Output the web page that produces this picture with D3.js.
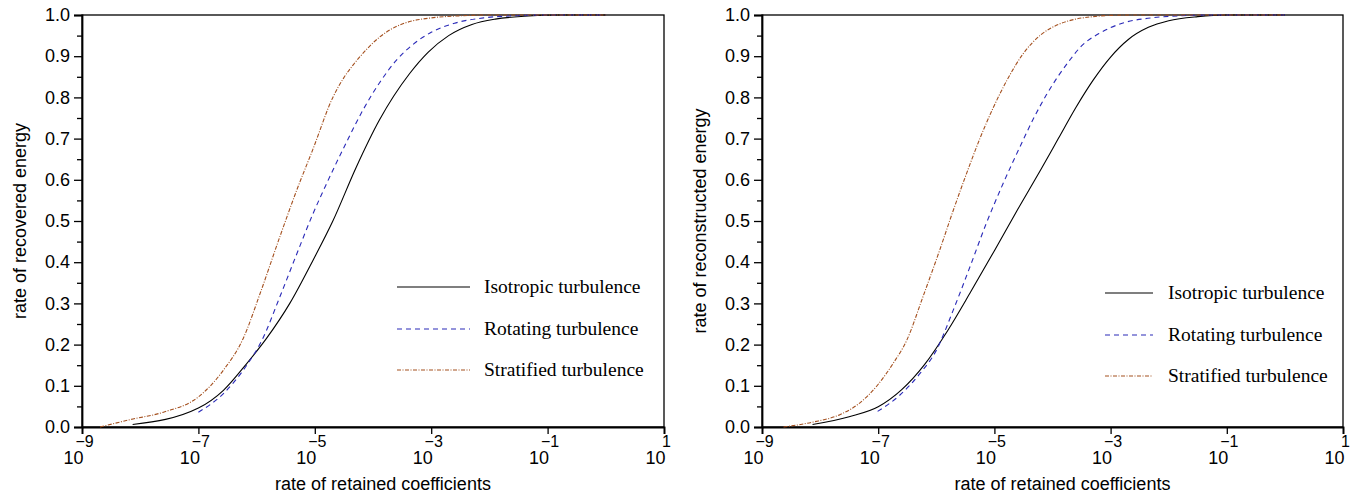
<!DOCTYPE html>
<html>
<head>
<meta charset="utf-8">
<script src="https://cdn.jsdelivr.net/npm/d3@7"></script>
<style>
  html, body { margin: 0; padding: 0; background: #fff; }
  svg { display: block; }
</style>
</head>
<body>
<svg id="chart" width="1363" height="497"></svg>
<script>
// ---------- data ----------
const seriesNames = ["Isotropic turbulence", "Rotating turbulence", "Stratified turbulence"];
const xTickValues = [1e-9, 1e-7, 1e-5, 1e-3, 1e-1, 1e1];
const xTickExponents = ["\u22129", "\u22127", "\u22125", "\u22123", "\u22121", "1"];
const yTickValues = [0, 0.1, 0.2, 0.3, 0.4, 0.5, 0.6, 0.7, 0.8, 0.9, 1.0];
const yMinorTickValues = [0.05, 0.15, 0.25, 0.35, 0.45, 0.55, 0.65, 0.75, 0.85, 0.95];

// Left panel (recovered energy): log10 of retained rate, and energy rate
const leftIsoLogX = [-8.13, -7.0, -6.57, -6.17, -5.83, -5.43, -5.03, -4.69, -4.29, -3.89, -3.37, -3.05, -2.7, -2.3, -1.9, -1.4, -0.8, 0];
const leftIsoVal  = [0.006, 0.046, 0.089, 0.154, 0.215, 0.30, 0.405, 0.50, 0.63, 0.745, 0.858, 0.91, 0.95, 0.977, 0.99, 0.997, 1.0, 1.0];
const leftRotLogX = [-7.0, -6.57, -6.17, -5.91, -5.6, -5.31, -5.03, -4.8, -4.46, -4.17, -3.89, -3.6, -3.3, -3.0, -2.6, -2.1, -1.6, -1.1, 0];
const leftRotVal  = [0.036, 0.081, 0.15, 0.21, 0.316, 0.42, 0.518, 0.59, 0.69, 0.77, 0.835, 0.89, 0.93, 0.958, 0.98, 0.993, 0.998, 1.0, 1.0];
const leftStrLogX = [-8.69, -8.17, -7.6, -7.0, -6.57, -6.23, -5.94, -5.6, -5.31, -5.03, -4.69, -4.5, -4.34, -4.1, -3.89, -3.6, -3.37, -3.0, -2.5, -2.0, 0];
const leftStrVal  = [0.0, 0.018, 0.036, 0.073, 0.138, 0.215, 0.324, 0.462, 0.575, 0.675, 0.80, 0.848, 0.879, 0.918, 0.946, 0.972, 0.984, 0.993, 0.998, 1.0, 1.0];

// Right panel (reconstructed energy)
const rightIsoLogX = [-8.13, -7.5, -7.0, -6.6, -6.2, -5.8, -5.4, -5.0, -4.6, -4.2, -3.9, -3.6, -3.3, -3.0, -2.7, -2.35, -2.0, -1.5, -1.0, 0];
const rightIsoVal  = [0.006, 0.025, 0.049, 0.09, 0.152, 0.235, 0.33, 0.428, 0.528, 0.625, 0.70, 0.775, 0.842, 0.898, 0.94, 0.97, 0.986, 0.996, 1.0, 1.0];
const rightRotLogX = [-7.01, -6.63, -6.28, -6.0, -5.71, -5.42, -5.14, -4.85, -4.56, -4.34, -4.11, -3.70, -3.5, -3.2, -2.8, -2.3, -1.8, -1.2, 0];
const rightRotVal  = [0.038, 0.077, 0.13, 0.186, 0.283, 0.389, 0.494, 0.591, 0.68, 0.745, 0.805, 0.891, 0.925, 0.955, 0.98, 0.993, 0.998, 1.0, 1.0];
const rightStrLogX = [-8.63, -8.12, -7.66, -7.32, -7.01, -6.74, -6.51, -6.23, -5.94, -5.71, -5.48, -5.25, -5.02, -4.79, -4.51, -4.2, -3.9, -3.6, -3.3, -3.0, -2.5, 0];
const rightStrVal  = [0.0, 0.012, 0.03, 0.058, 0.102, 0.155, 0.21, 0.316, 0.43, 0.525, 0.615, 0.70, 0.775, 0.84, 0.905, 0.952, 0.977, 0.99, 0.996, 0.999, 1.0, 1.0];

// ---------- styles ----------
const styles = [
  { color: "#000000", dash: null, width: 1.1 },
  { color: "#2a2ab8", dash: "5,4", width: 1.1 },
  { color: "#a4501f", dash: "4,1.5,1,1.5", width: 1.1 }
];

const toPoints = (lx, v) => lx.map((e, i) => ({ x: Math.pow(10, e), y: v[i] }));

const panels = [
  {
    left: 82, right: 664, ylabel: "rate of recovered energy", ylabelX: 20,
    legend: { x1: 397, x2: 470, tx: 484, ys: [287, 329, 370] },
    series: [toPoints(leftIsoLogX, leftIsoVal), toPoints(leftRotLogX, leftRotVal), toPoints(leftStrLogX, leftStrVal)]
  },
  {
    left: 762, right: 1343, ylabel: "rate of reconstructed energy", ylabelX: 700,
    legend: { x1: 1105, x2: 1153, tx: 1168, ys: [293, 335, 376] },
    series: [toPoints(rightIsoLogX, rightIsoVal), toPoints(rightRotLogX, rightRotVal), toPoints(rightStrLogX, rightStrVal)]
  }
];

const plotTop = 15, plotBottom = 427;
const svg = d3.select("#chart");
const sansFont = "'Liberation Sans', Arial, Helvetica, sans-serif";
const serifFont = "'Liberation Serif', 'Times New Roman', serif";

panels.forEach(p => {
  const x = d3.scaleLog().domain([1e-9, 1e1]).range([p.left, p.right]);
  const y = d3.scaleLinear().domain([0, 1]).range([plotBottom, plotTop]);
  const g = svg.append("g");

  // frame
  g.append("rect")
    .attr("x", p.left).attr("y", plotTop)
    .attr("width", p.right - p.left).attr("height", plotBottom - plotTop)
    .attr("fill", "none").attr("stroke", "#000").attr("stroke-width", 1.3);

  // y minor ticks
  const yMinor = g.append("g").attr("transform", `translate(${p.left},0)`)
    .call(d3.axisLeft(y).tickValues(yMinorTickValues).tickSize(5).tickFormat(""));
  yMinor.select(".domain").remove();
  yMinor.selectAll("line").attr("stroke-width", 1.3);

  // y major ticks
  const yAx = g.append("g").attr("transform", `translate(${p.left},0)`)
    .call(d3.axisLeft(y).tickValues(yTickValues).tickSize(8).tickPadding(4).tickFormat(d3.format(".1f")));
  yAx.select(".domain").attr("stroke-width", 1.8);
  yAx.selectAll("line").attr("stroke-width", 1.3);
  yAx.selectAll("text").attr("font-family", sansFont).attr("font-size", 18).attr("fill", "#000");

  // x axis
  const xAx = g.append("g").attr("transform", `translate(0,${plotBottom})`)
    .call(d3.axisBottom(x).tickValues(xTickValues).tickSize(7).tickFormat(""));
  xAx.select(".domain").attr("stroke-width", 1.8);
  xAx.selectAll("line").attr("stroke-width", 1.3);
  xAx.selectAll(".tick").each(function(d, i) {
    d3.select(this).append("text")
      .attr("font-family", sansFont).attr("fill", "#000")
      .attr("text-anchor", "end").attr("font-size", 18).attr("x", 1).attr("y", 37).text("10");
    d3.select(this).append("text")
      .attr("font-family", sansFont).attr("fill", "#000")
      .attr("font-size", 16).attr("x", 2).attr("y", 20).text(xTickExponents[i]);
  });

  // axis labels
  g.append("text")
    .attr("x", (p.left + p.right) / 2 + 10).attr("y", 490)
    .attr("text-anchor", "middle")
    .attr("font-family", sansFont).attr("font-size", 18).attr("fill", "#000")
    .text("rate of retained coefficients");
  g.append("text")
    .attr("transform", `translate(${p.ylabelX},${(plotTop + plotBottom) / 2}) rotate(-90)`)
    .attr("text-anchor", "middle").attr("dy", "0.35em")
    .attr("font-family", sansFont).attr("font-size", 18).attr("fill", "#000")
    .text(p.ylabel);

  // curves
  const line = d3.line().x(d => x(d.x)).y(d => y(d.y)).curve(d3.curveMonotoneX);
  p.series.forEach((s, i) => {
    g.append("path").datum(s)
      .attr("d", line)
      .attr("fill", "none")
      .attr("stroke", styles[i].color)
      .attr("stroke-width", styles[i].width)
      .attr("stroke-dasharray", styles[i].dash);
  });

  // legend
  seriesNames.forEach((name, i) => {
    const ly = p.legend.ys[i];
    g.append("line")
      .attr("x1", p.legend.x1).attr("x2", p.legend.x2)
      .attr("y1", ly).attr("y2", ly)
      .attr("stroke", styles[i].color).attr("stroke-width", styles[i].width)
      .attr("stroke-dasharray", styles[i].dash);
    g.append("text")
      .attr("x", p.legend.tx).attr("y", ly).attr("dy", "0.33em")
      .attr("font-family", serifFont).attr("font-size", 19.5).attr("fill", "#000")
      .text(name);
  });
});
</script>
</body>
</html>
